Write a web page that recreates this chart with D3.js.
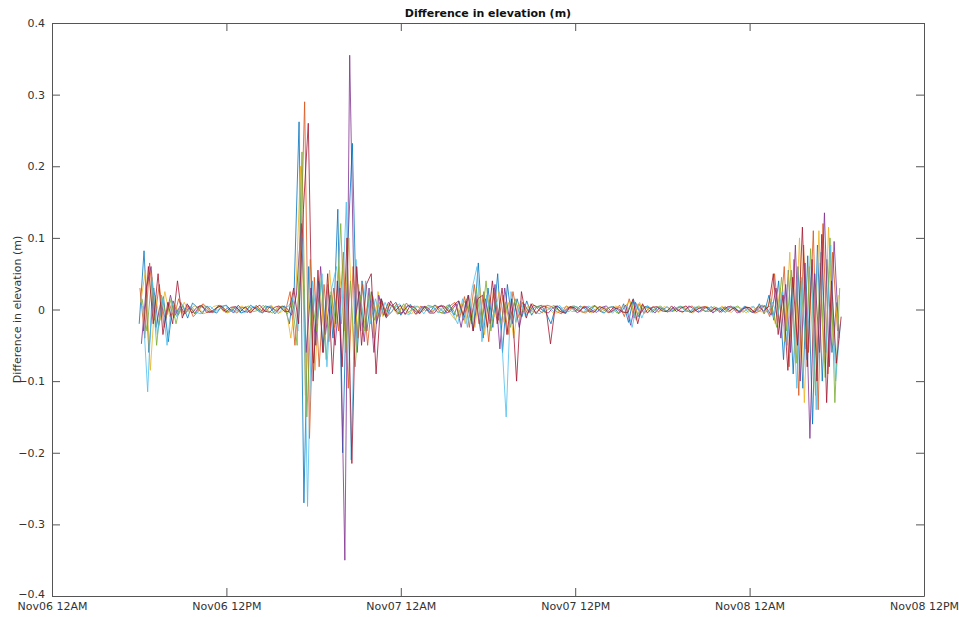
<!DOCTYPE html>
<html>
<head>
<meta charset="utf-8">
<script src="https://cdn.jsdelivr.net/npm/d3@7"></script>
<style>
  body { margin: 0; background: #fff; }
  svg { display: block; font-family: "DejaVu Sans", sans-serif; }
</style>
</head>
<body>
<div id="chart"></div>
<script>
// sampling grid of the records (first sample, interval in minutes)
const startTime = new Date(2018, 10, 6, 6, 0);
const stepMinutes = 20;
// each station logs a few minutes after the previous one
const seriesOffsetMinutes = [0, 3, 6, 9, 12, 15, 18];

// elevation differences, millimetres, one array per station
const seriesA = [
  -20, 82, -60, 30, -25, 18, -45, 12, -8, 6,
  -12, 9, 3, -6, 5, -2, -5, 4, 6, -3,
  4, -5, -2, 6, 1, -4, 5, 3, -6, 2,
  5, -20, 30, 262, -270, 60, -75, 40, -60, 35,
  -40, 140, -200, 80, 232, -60, 40, -30, 25, -20,
  15, -12, 4, 10, -8, 2, 7, -6, -3, 5,
  -4, 6, 2, -5, 7, -8, 12, -15, 20, -30,
  65, -40, 30, -25, 50, -60, 35, -20, 15, -10,
  12, -8, 3, 6, -5, -20, 5, 2, -6, 4,
  -3, 5, 1, -4, 6, -2, -5, 3, 4, -6,
  8, -18, 15, -10, 2, 5, -4, 3, -1, 4,
  -3, 2, 4, -2, -4, 3, 1, -3, 4, 0,
  2, -4, 3, 1, -3, 5, -2, -5, 8, -6,
  20, -15, 40, -70, 55, -90, 60, -110, 75, -160,
  90, -100, 70, -60, 10
];
const seriesB = [
  30, -40, 65, -15, 35, -25, 10, -12, 15, -8,
  6, -10, -3, 8, 2, -5, 4, 5, -4, 1,
  -5, 3, 2, -4, 6, -1, -3, 5, -2, 4,
  -4, 25, -50, 40, 290, -180, 45, -80, 35, -45,
  30, -30, 80, -110, 60, -40, 35, -50, 20, -15,
  12, -10, -3, 8, -6, 9, 2, -7, 5, -2,
  3, 6, -4, -6, 5, 10, -12, 18, -25, 35,
  -20, 25, -45, 30, -15, 20, -35, 25, -12, 10,
  -6, 8, 2, -5, 6, 4, -3, -6, 5, 1,
  4, -3, -5, 2, 5, -2, 3, -4, -1, 6,
  -10, 15, -12, 8, -5, 1, 4, -3, 2, -4,
  3, -1, -4, 2, 5, -3, -2, 4, -2, 3,
  -4, 2, 5, -1, -3, 4, 2, -5, -2, 6,
  -10, 50, -25, 60, -80, 70, -120, 90, -60, 110,
  -140, 120, -90, 80, -30
];
const seriesC = [
  10, 55, -85, 20, -15, 25, -10, 8, -6, 10,
  -4, 5, 2, -6, -3, 4, 6, -2, -5, 3,
  2, 5, -3, -1, 4, -5, 2, 6, -3, -4,
  3, -40, 15, 200, -120, 70, -85, 30, -40, 55,
  -25, 60, -30, 100, -70, 35, -25, 15, -40, 25,
  -10, 8, 3, -7, 6, -4, -6, 5, 2, 4,
  -3, 5, -1, 4, -6, -15, 8, -20, 15, -25,
  30, -35, 20, -10, 25, -18, 10, -40, 8, -5,
  5, -4, -2, 6, 3, -4, -5, 2, 4, -3,
  -2, 4, 3, -5, 1, 4, -3, -4, 5, 2,
  5, 12, -8, 10, -6, 3, -1, -4, 4, 2,
  -3, 4, 2, -2, -5, 1, 3, 4, -3, -2,
  5, -2, -4, 3, 2, -5, 4, 1, -3, -4,
  15, -20, 30, -45, 80, -60, 100, -130, 60, -90,
  110, -70, 115, -50, 20
];
const seriesD = [
  -48, 30, 60, -25, 10, -15, 20, -8, 5, -6,
  4, -6, 5, 2, -4, -3, 6, -2, 3, -5,
  6, -2, -4, 3, 1, -5, 4, 2, -3, 5,
  2, -8, 20, 120, -60, 30, -50, 60, -35, 20,
  -50, 30, -350, 355, -20, 25, -45, 30, -60, 20,
  -8, 10, 3, -6, -4, 6, 1, -5, 4, 3,
  -4, 3, 6, -5, -2, 8, -25, 12, -15, 20,
  -30, 15, -20, 35, -55, 30, -15, 10, -25, 8,
  -4, 6, 3, -2, -5, 3, 5, -4, 2, 4,
  -5, 2, 4, -1, -4, 3, 5, -3, 2, -4,
  6, -22, 10, -6, 4, 2, -5, 3, -1, -3,
  4, -2, -3, 5, 1, -4, 2, 3, -5, 2,
  -2, 4, 3, -5, 1, 3, -4, -2, 5, 3,
  -8, 30, -40, 35, -60, 90, -100, 65, -180, 50,
  -60, 135, -80, 95, -40
];
const seriesE = [
  15, -30, 45, -50, 20, -10, 15, -20, 10, -5,
  3, -6, 4, 5, -3, -2, 6, 1, -4, 3,
  -4, 2, 5, -3, -1, 6, -2, -5, 3, 4,
  -6, 10, -50, 220, -150, 20, -30, 45, -70, 25,
  -20, 120, -60, 40, -80, 20, -30, 25, -15, 10,
  -8, 6, 5, -5, 8, -4, 3, -5, -2, 6,
  4, -3, -5, 6, 2, -10, 5, 15, -20, 30,
  -25, 40, -30, 15, -20, 10, -25, 15, -8, 6,
  -5, 3, 5, -4, 1, 6, -2, -4, 3, 5,
  3, -4, -2, 5, 3, -3, 1, 4, -5, -2,
  -5, 10, -15, 6, 3, -4, 2, 5, -3, 1,
  -2, 4, 3, -4, 2, 5, -2, -3, 4, 1,
  3, -3, 2, 5, -4, 1, -3, 4, 6, 3,
  5, -25, 45, -30, 55, -75, 40, -55, 85, -120,
  65, -95, 100, -130, 30
];
const seriesF = [
  5, -115, 40, -35, 15, -50, 10, -10, 8, -4,
  5, -4, -6, 3, 4, -3, 2, 6, -2, -4,
  2, -5, 3, 4, -2, -4, 5, 1, -6, 3,
  4, 15, -30, 100, -275, 40, -20, 50, -80, 30,
  60, -20, 150, -210, 70, -30, 40, -20, 15, -10,
  10, -6, 2, 8, -5, -7, 5, 3, -6, 4,
  3, -5, 4, 2, -6, -20, 15, -25, 30, 60,
  -45, 20, -15, 10, -30, -150, 25, -18, 12, -10,
  5, -4, -6, 3, 2, -4, 6, -2, -3, 5,
  2, -4, 5, 1, -3, 4, -2, -5, 3, 2,
  4, -25, 8, -12, 5, 2, -3, 4, -2, -3,
  2, 5, -3, -2, 4, -4, 3, 1, -3, 2,
  -3, 2, 4, -2, 3, -4, 5, -3, 4, -5,
  10, -10, 25, -50, 30, -110, 45, -70, 60, -140,
  80, -60, 90, -100, -20
];
const seriesG = [
  -30, 60, -20, 50, -35, 10, -20, 40, -12, 8,
  -5, 3, 6, -4, -3, 2, 5, -4, 3, 4,
  -3, 4, -5, 2, 6, -2, -4, 3, 5, -2,
  -3, 30, -20, 140, 260, -100, 55, -60, 50, -90,
  40, -80, 100, -215, 60, -50, 35, 50, -90, 15,
  -10, 12, -2, 6, -7, 5, 3, -6, 4, -5,
  -5, 4, 5, -3, 6, 12, -8, 20, -30, 15,
  20, -25, 40, -20, 30, -35, 15, -100, 25, -12,
  8, -6, 3, 5, -48, 5, -3, -5, 4, 2,
  -3, 5, -2, -4, 4, 2, -5, 3, 1, -4,
  -4, 14, -20, 8, -5, 3, 4, -2, -3, 5,
  -3, 2, 5, -4, -1, 3, 4, -3, 2, -4,
  4, -2, 3, -5, 2, 3, -3, 4, -2, 4,
  50, -35, 20, -85, 45, -50, 115, -80, 70, -100,
  105, -130, 40, -75, -10
];

const allSeries = [seriesA, seriesB, seriesC, seriesD, seriesE, seriesF, seriesG];
const seriesColors = ['#0072BD', '#D95319', '#EDB120', '#7E2F8E', '#77AC30', '#4DBEEE', '#A2142F'];

const xDomain = [new Date(2018, 10, 6, 0, 0), new Date(2018, 10, 8, 12, 0)];
const yTicks = [-0.4, -0.3, -0.2, -0.1, 0, 0.1, 0.2, 0.3, 0.4];

const W = 959, H = 617;
const margin = { top: 23, right: 35, bottom: 21, left: 52 };
const axisColor = '#555';

const svg = d3.select('#chart').append('svg')
  .attr('width', W)
  .attr('height', H);

const x = d3.scaleTime()
  .domain(xDomain)
  .range([margin.left, W - margin.right]);

const y = d3.scaleLinear()
  .domain([-0.4, 0.4])
  .range([H - margin.bottom, margin.top]);

// data lines
const plot = svg.append('g');
allSeries.forEach((s, k) => {
  const t0 = startTime.getTime() + seriesOffsetMinutes[k] * 60000;
  const line = d3.line()
    .x((d, i) => x(new Date(t0 + i * stepMinutes * 60000)))
    .y(d => y(d / 1000));

  plot.append('path')
    .datum(s)
    .attr('fill', 'none')
    .attr('stroke', seriesColors[k])
    .attr('stroke-width', 0.8)
    .attr('stroke-linejoin', 'round')
    .attr('d', line);
});

// axes, MATLAB style box with inward ticks
const xTicks = d3.timeHour.every(12).range(xDomain[0], d3.timeHour.offset(xDomain[1], 1));
const fmt = d3.timeFormat('%b%d %I%p');

const xAxis = svg.append('g')
  .attr('transform', `translate(0,${H - margin.bottom})`)
  .call(d3.axisBottom(x).tickValues(xTicks).tickFormat(fmt).tickSizeInner(-8).tickSizeOuter(0).tickPadding(6));
const xAxisTop = svg.append('g')
  .attr('transform', `translate(0,${margin.top})`)
  .call(d3.axisTop(x).tickValues(xTicks).tickFormat('').tickSizeInner(-8).tickSizeOuter(0));

const yAxis = svg.append('g')
  .attr('transform', `translate(${margin.left},0)`)
  .call(d3.axisLeft(y).tickValues(yTicks).tickFormat(d => d === 0 ? '0' : d3.format('.1f')(d)).tickSizeInner(-8).tickSizeOuter(0).tickPadding(7));
const yAxisRight = svg.append('g')
  .attr('transform', `translate(${W - margin.right},0)`)
  .call(d3.axisRight(y).tickValues(yTicks).tickFormat('').tickSizeInner(-8).tickSizeOuter(0));

[xAxis, xAxisTop, yAxis, yAxisRight].forEach(g => {
  g.select('.domain').attr('stroke', axisColor);
  g.selectAll('.tick line').attr('stroke', axisColor);
  g.selectAll('.tick text')
    .attr('fill', '#333')
    .style('font-family', '"DejaVu Sans", sans-serif')
    .style('font-size', '11px');
});

// lowest y label sits just above the first date, as in the original
yAxis.selectAll('.tick text').filter(d => d === -0.4).attr('dy', '0.1em');

// title and y label
svg.append('text')
  .attr('x', (margin.left + W - margin.right) / 2)
  .attr('y', 17)
  .attr('text-anchor', 'middle')
  .attr('font-weight', 'bold')
  .attr('font-size', 11)
  .attr('fill', '#111')
  .text('Difference in elevation (m)');

svg.append('text')
  .attr('transform', `translate(21,${y(0)}) rotate(-90)`)
  .attr('text-anchor', 'middle')
  .attr('font-size', 11)
  .attr('fill', '#333')
  .text('Difference in elevation (m)');
</script>
</body>
</html>
